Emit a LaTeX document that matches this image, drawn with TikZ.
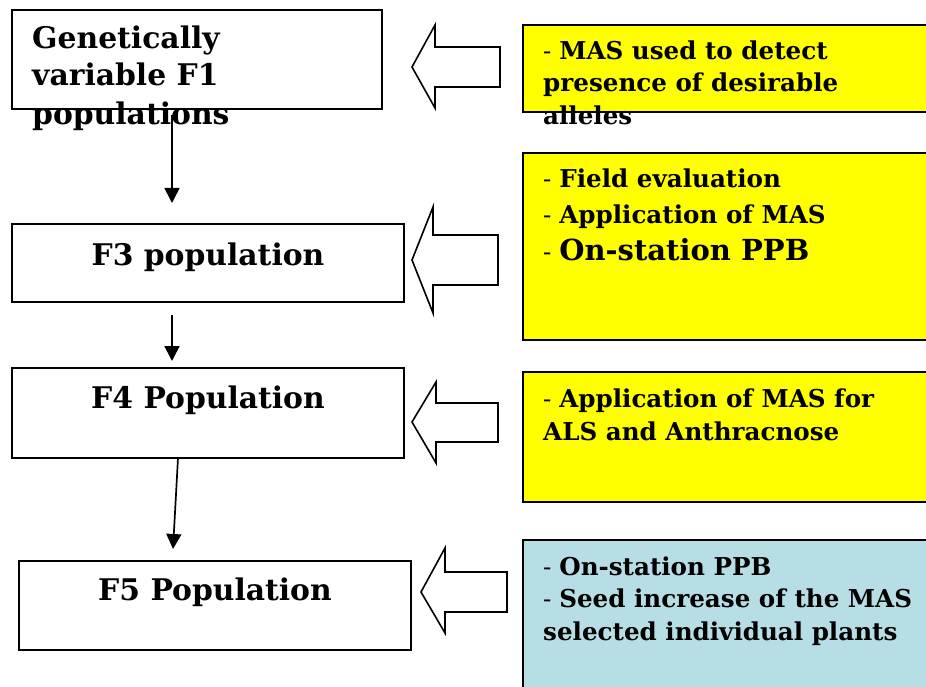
\documentclass[tikz,border=0pt]{standalone}
\usepackage{fontspec}
\setmainfont{DejaVu Serif}
\usetikzlibrary{arrows.meta}
\definecolor{lightblue}{RGB}{183,222,228}
\definecolor{pureyellow}{RGB}{255,255,0}
\begin{document}
\begin{tikzpicture}[x=1pt,y=-1pt,
  box/.style={draw, line width=1.8pt, inner sep=0pt, outer sep=0pt, fill=white},
  ybox/.style={box, fill=pureyellow},
  bbox/.style={box, fill=lightblue},
  lbl/.style={font=\bfseries\fontsize{29.8}{36}\selectfont, anchor=base west, inner sep=0pt},
  rt/.style={font=\bfseries\fontsize{24.6}{30}\selectfont, anchor=base west, inner sep=0pt},
  blockarrow/.style={draw, line width=1.6pt, fill=white, line join=miter},
  flow/.style={-{Triangle[length=15pt,width=15pt]}, line width=1.7pt}]
\useasboundingbox (0,0) rectangle (926,687);
\clip (0,0) rectangle (926,687);
\fill[white] (0,0) rectangle (926,687);
% left boxes
\node[box, minimum width=370pt, minimum height=99pt] (f1) at (197,59.5) {};
\node[box, minimum width=392pt, minimum height=78pt] (f3) at (208,263) {};
\node[box, minimum width=392pt, minimum height=90pt] (f4) at (208,413) {};
\node[box, minimum width=392pt, minimum height=89pt] (f5) at (215,605.5) {};
% right boxes
\node[ybox, minimum width=417pt, minimum height=87pt] (y1) at (731.5,68.5) {};
\node[ybox, minimum width=417pt, minimum height=187pt] (y2) at (731.5,246.5) {};
\node[ybox, minimum width=417pt, minimum height=130pt] (y3) at (731.5,437) {};
\node[bbox, minimum width=417pt, minimum height=160pt] (b4) at (731.5,620) {};
% left texts
\node[lbl] (t1a) at (32,49) {Genetically};
\node[lbl] (t1b) at (32,86) {variable F1};
\node[lbl] (t1c) at (32,125) {populations};
\node[lbl, anchor=base] (t3) at (208,265) {F3 population};
\node[lbl, anchor=base] (t4) at (208,408) {F4 Population};
\node[lbl, anchor=base] (t5) at (215,600) {F5 Population};
% right texts
\node[rt] (r1a) at (543,60) {\mdseries -\ \bfseries MAS used to detect};
\node[rt] (r1b) at (543,92) {presence of desirable};
\node[rt] (r1c) at (543,125) {alleles};
\node[rt] (r2a) at (543,188) {\mdseries -\ \bfseries Field evaluation};
\node[rt] (r2b) at (543,224) {\mdseries -\ \bfseries Application of MAS};
\node[rt] (r2c) at (543,260) {\mdseries -\ \bfseries\fontsize{29}{34}\selectfont On-station PPB};
\node[rt] (r3a) at (543,407) {\mdseries -\ \bfseries Application of MAS for};
\node[rt] (r3b) at (543,440) {ALS and Anthracnose};
\node[rt] (r4a) at (543,575) {\mdseries -\ \bfseries On-station PPB};
\node[rt] (r4b) at (543,607) {\mdseries -\ \bfseries Seed increase of the MAS};
\node[rt] (r4c) at (543,640) {selected individual plants};
% block arrows
\draw[blockarrow] (412,67) -- (435,25) -- (435,47) -- (500,47) -- (500,87) -- (435,87) -- (435,108) -- cycle;
\draw[blockarrow] (412,260) -- (433,207) -- (433,235) -- (498,235) -- (498,285) -- (433,285) -- (433,313) -- cycle;
\draw[blockarrow] (412,422) -- (436,382) -- (436,403) -- (498,403) -- (498,442) -- (436,442) -- (436,463) -- cycle;
\draw[blockarrow] (421,592) -- (445,548) -- (445,572) -- (507,572) -- (507,612) -- (445,612) -- (445,633) -- cycle;
% flow arrows
\coordinate (e1) at (172,203);
\coordinate (e2) at (172,361);
\coordinate (e3) at (173,549);
\draw[flow] ([xshift=160pt]f1.south west) ++(0,6) -- (e1);
\draw[flow] ([xshift=160pt]f3.south west) ++(0,13) -- (e2);
\draw[flow] ([xshift=166pt]f4.south west) -- (e3);
\end{tikzpicture}
\end{document}
